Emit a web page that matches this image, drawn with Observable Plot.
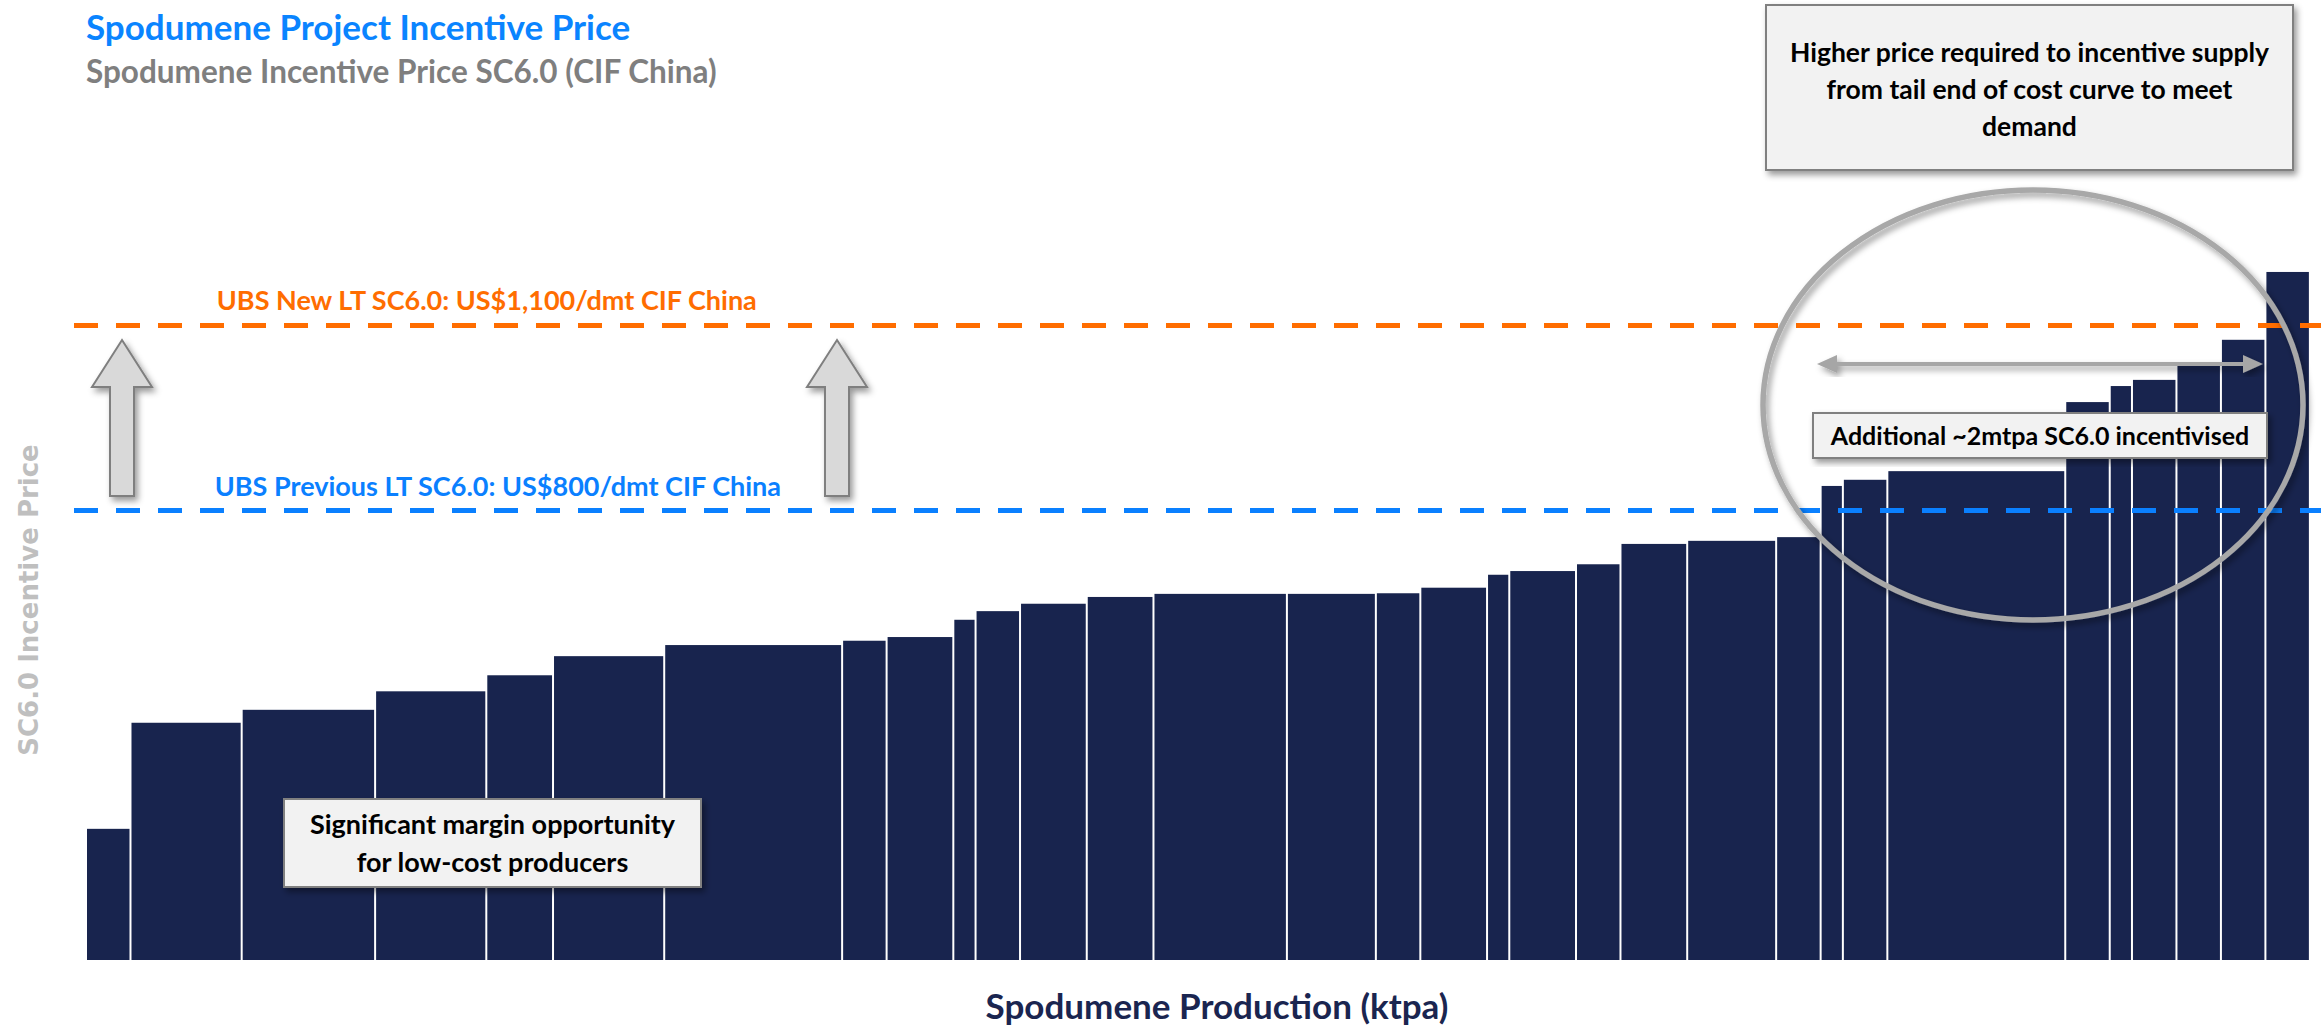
<!DOCTYPE html>
<html>
<head>
<meta charset="utf-8">
<script src="https://cdn.jsdelivr.net/npm/d3@7"></script>
<script src="https://cdn.jsdelivr.net/npm/@observablehq/plot@0.6"></script>
<style>
  html, body { margin: 0; padding: 0; background: #ffffff; }
  #wrap { position: relative; width: 2321px; height: 1025px; overflow: hidden; }
  #wrap > svg { position: absolute; left: 0; top: 0; }
</style>
</head>
<body>
<div id="wrap"></div>
<script>
// ---- Data ----
// Production capacity of each project on the cost curve (ktpa), in cost order
const production = [200, 500, 600, 500, 300, 500, 800, 200, 300, 100, 200, 300, 300, 600, 400, 200,
                    300, 100, 300, 200, 300, 400, 200, 100, 200, 800, 200, 100, 200, 200, 200, 200];
// Incentive price SC6.0 (US$/dmt CIF China)
const incentivePrice = [283, 455, 476, 506, 532, 563, 581, 588, 594, 622, 636, 648, 659, 664, 664, 665,
                        674, 695, 701, 712, 745, 750, 756, 839, 849, 863, 975, 1001, 1011, 1034, 1076, 1186];
// Long-term price assumptions
const priceLevels = [
  {value: 800, label: "UBS Previous LT SC6.0: US$800/dmt CIF China", color: "#0a80ff", at: 1850},
  {value: 1100, label: "UBS New LT SC6.0: US$1,100/dmt CIF China", color: "#ff6d00", at: 1800}
];

const titleText = "Spodumene Project Incentive Price";
const subtitleText = "Spodumene Incentive Price SC6.0 (CIF China)";
const xLabel = "Spodumene Production (ktpa)";
const yLabel = "SC6.0 Incentive Price";
const noteTop = ["Higher price required to incentive supply", "from tail end of cost curve to meet", "demand"];
const noteMid = "Additional ~2mtpa SC6.0 incentivised";
const noteLow = ["Significant margin opportunity", "for low-cost producers"];

// ---- Build table ----
let acc = 0;
const rows = production.map((w, i) => {
  const r = {x1: acc, x2: acc + w, price: incentivePrice[i]};
  acc += w;
  return r;
});

const W = 2321, H = 1025;
const chart = Plot.plot({
  width: W, height: H,
  marginLeft: 74, marginRight: 0, marginTop: 0, marginBottom: 65,
  style: {fontFamily: "Lato, 'Open Sans', sans-serif", background: "transparent"},
  x: {domain: [-54, 10050], axis: null},
  y: {domain: [70.3, 1627], axis: null},
  marks: [
    Plot.rectY(rows, {x1: "x1", x2: "x2", y1: () => 0, y2: "price", fill: "#18244e",
                      insetLeft: 1, insetRight: 1, clip: true}),
    Plot.ruleY(priceLevels, {y: "value", stroke: "color", strokeWidth: 5, strokeDasharray: "24,18"}),
    Plot.text(priceLevels, {x: "at", y: "value", text: "label", fill: "color",
                            fontSize: 27, fontWeight: 700, lineAnchor: "bottom", dy: -15})
  ]
});
const wrap = document.getElementById("wrap");
wrap.appendChild(chart);

// ---- Annotation overlay ----
const svg = d3.select(wrap).append("svg").attr("width", W).attr("height", H)
  .style("font-family", "Lato, 'Open Sans', sans-serif");
const defs = svg.append("defs");
const f = defs.append("filter").attr("id", "sh").attr("x", "-20%").attr("y", "-20%")
  .attr("width", "140%").attr("height", "140%");
f.append("feDropShadow").attr("dx", 3).attr("dy", 4).attr("stdDeviation", 3)
  .attr("flood-color", "#000").attr("flood-opacity", 0.4);

// Titles
svg.append("text").attr("x", 86).attr("y", 40).attr("font-size", 35).attr("font-weight", 700)
  .attr("fill", "#0a84ff").text(titleText);
svg.append("text").attr("x", 86).attr("y", 83).attr("font-size", 31.5).attr("font-weight", 700)
  .attr("fill", "#7f7f7f").text(subtitleText);

// Axis labels
svg.append("text").attr("transform", "translate(38,600) rotate(-90)").attr("text-anchor", "middle")
  .attr("font-family", "'DejaVu Sans', sans-serif").attr("font-size", 26).attr("font-weight", 700)
  .attr("fill", "#bfbfbf").text(yLabel);
svg.append("text").attr("x", 1217).attr("y", 1019).attr("text-anchor", "middle")
  .attr("font-size", 35).attr("font-weight", 700).attr("fill", "#1a2550").text(xLabel);

// Up block arrows
function upArrow(cx) {
  const pts = [[cx, 340], [cx + 30, 387], [cx + 12, 387], [cx + 12, 496], [cx - 12, 496], [cx - 12, 387], [cx - 30, 387]];
  svg.append("polygon").attr("points", pts.map(p => p.join(",")).join(" "))
    .attr("fill", "#d9d9d9").attr("stroke", "#7f7f7f").attr("stroke-width", 2).attr("filter", "url(#sh)");
}
upArrow(122);
upArrow(837);

// Ellipse
svg.append("ellipse").attr("cx", 2033).attr("cy", 405).attr("rx", 270).attr("ry", 215)
  .attr("fill", "none").attr("stroke", "#a8a8a8").attr("stroke-width", 5.5).attr("filter", "url(#sh)");

// Double-headed arrow
const ag = svg.append("g").attr("filter", "url(#sh)");
ag.append("line").attr("x1", 1830).attr("x2", 2250).attr("y1", 364).attr("y2", 364)
  .attr("stroke", "#a6a6a6").attr("stroke-width", 4);
ag.append("polygon").attr("points", "1817,364 1837,355 1837,373").attr("fill", "#a6a6a6");
ag.append("polygon").attr("points", "2263,364 2243,355 2243,373").attr("fill", "#a6a6a6");

// Boxes
function box(x, y, w, h, lines, baselines, size) {
  svg.append("rect").attr("x", x).attr("y", y).attr("width", w).attr("height", h)
    .attr("fill", "#f2f2f2").attr("stroke", "#808080").attr("stroke-width", 2).attr("filter", "url(#sh)");
  lines.forEach((t, i) => {
    svg.append("text").attr("x", x + w / 2).attr("y", baselines[i]).attr("text-anchor", "middle")
      .attr("font-size", size).attr("font-weight", 700).attr("fill", "#000").text(t);
  });
}
box(1766, 5, 527, 165, noteTop, [62, 99, 136], 26.5);
box(1813, 413, 454, 45, [noteMid], [445], 25);
box(284, 799, 417, 88, noteLow, [834, 872], 27);
</script>
</body>
</html>
